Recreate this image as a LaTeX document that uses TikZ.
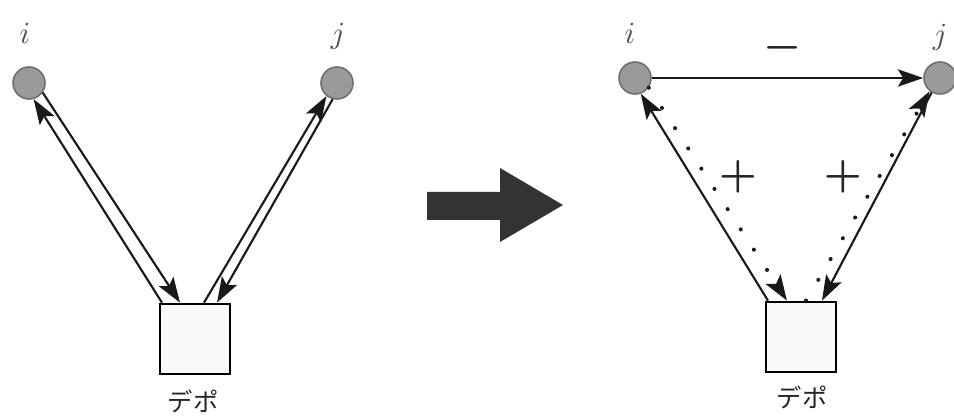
\documentclass[tikz,border=0pt]{standalone}
\usepackage{graphicx}
\usepackage{fontspec}
\newfontfamily\jpfont{Noto Sans CJK JP}
\usetikzlibrary{arrows.meta,calc}
\definecolor{nodefill}{HTML}{9A9A9A}
\definecolor{nodeline}{HTML}{707070}
\definecolor{labelgray}{HTML}{505050}
\definecolor{bigarrow}{HTML}{333333}
\newcommand{\vname}[1]{\scalebox{2.3}{$#1$}}
\newcommand{\signsym}[1]{\scalebox{3.2}{\boldmath$#1$}}
\tikzset{
  customer/.style={circle,draw=nodeline,fill=nodefill,line width=1.2pt,minimum size=24pt,inner sep=0pt},
  depot/.style={rectangle,draw=black,fill=black!2,line width=1.5pt,minimum width=52.5pt,minimum height=53pt,inner sep=0pt},
  vlabel/.style={text=labelgray,inner sep=0pt},
  deplabel/.style={font=\jpfont\fontsize{19}{22}\selectfont,text=black!85},
  sign/.style={text=black!85,inner sep=0pt},
  edge/.style={line width=1.6pt,draw=black!90,-{Stealth[length=19pt,width=13pt,inset=4pt]}},
  dotedge/.style={edge,line cap=round,dash pattern=on 0.1pt off 18pt,line width=3pt}
}
\begin{document}
\begin{tikzpicture}[x=0.75pt,y=-0.75pt]
\useasboundingbox (0,0) rectangle (954,417);

% ---- before: separate round trips ----
\node[customer] (i1) at (29,83) {};
\node[customer] (j1) at (337,83) {};
\node[depot] (d1) at (195,339) {};
\node[vlabel] (li1) at (25,33) {\vname{i}};
\node[vlabel] (lj1) at (338,36) {\vname{j}};
\node[deplabel] (ld1) at (193,401) {デポ};

\draw[edge] (i1.-35) -- ([xshift=21pt*0.75]d1.north west);
\draw[edge] ([xshift=3pt*0.75]d1.north west) -- (i1.-74);
\draw[edge] ([xshift=45pt*0.75]d1.north west) -- (j1.-129);
\draw[edge] (j1.-105) -- ([xshift=58pt*0.75]d1.north west);

% ---- transformation arrow ----
\fill[bigarrow] (427,192) -- (500,192) -- (500,168) -- (563,205)
  -- (500,242) -- (500,220) -- (427,220) -- cycle;

% ---- after: merged route ----
\node[customer] (i2) at (635,78) {};
\node[customer] (j2) at (940,78) {};
\node[depot] (d2) at (801,337) {};
\node[vlabel] (li2) at (630,33) {\vname{i}};
\node[vlabel] (lj2) at (940,37) {\vname{j}};
\node[deplabel] (ld2) at (802,397) {デポ};

\draw[edge] (i2.east) -- (j2.west);
\node[sign] (minus) at (783,48) {\signsym{-}};

\draw[edge] ([xshift=3pt*0.75]d2.north west) -- (i2.-70);
\draw[dotedge] (i2.-35) -- ([xshift=22pt*0.75]d2.north west);
\draw[edge] (j2.-120) -- ([xshift=57pt*0.75]d2.north west);
\draw[dotedge] ([xshift=41pt*0.75]d2.north west) -- (j2.-128);

\node[sign] (plusl) at (738,177) {\signsym{+}};
\node[sign] (plusr) at (843,177) {\signsym{+}};
\end{tikzpicture}
\end{document}
